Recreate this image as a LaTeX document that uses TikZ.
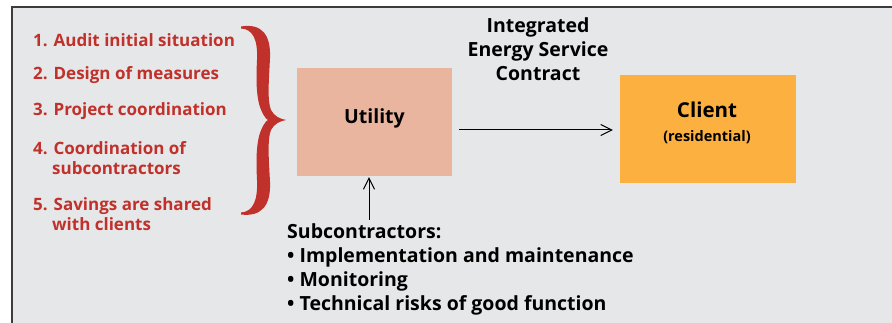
\documentclass[tikz,border=0pt]{standalone}
\usepackage{fontspec}
\setmainfont{Open Sans}
\usetikzlibrary{arrows.meta}
\definecolor{panelgray}{HTML}{E6E7E8}
\definecolor{frame}{HTML}{3C3C3C}
\definecolor{stepred}{HTML}{C1312B}
\definecolor{utilfill}{HTML}{E9B59F}
\definecolor{clientfill}{HTML}{FBB040}
\tikzset{
  steptext/.style={anchor=west, text=stepred, font=\bfseries\fontsize{17}{20}\selectfont, align=left, inner sep=0pt},
  maintext/.style={font=\bfseries\fontsize{19.5}{24}\selectfont, inner sep=0pt},
  actor/.style={draw=none, inner sep=0pt},
  arr/.style={line width=1pt, -{Straight Barb[length=11pt,width=11pt,line width=1pt]}}
}
\begin{document}
\begin{tikzpicture}[x=1pt,y=-1pt]
\useasboundingbox (0,0) rectangle (892,323);
% panel
\fill[panelgray] (12,7) rectangle (892,323);
\draw[frame, line width=2pt] (12,323) -- (12,7) -- (892,7);

% numbered steps
\node[steptext] (s1) at (33,40) {1. Audit initial situation};
\node[steptext] (s2) at (33,75) {2. Design of measures};
\node[steptext] (s3) at (33,111) {3. Project coordination};
\node[steptext] (s4) at (33,158) {4. Coordination of\\\hphantom{4.\ }subcontractors};
\node[steptext] (s5) at (33,214) {5. Savings are shared\\\hphantom{5.\ }with clients};

% curly brace
\fill[stepred] (241,26.5)
  .. controls (262,23) and (271,35) .. (270,58)
  .. controls (269,80) and (267,100) .. (271,110)
  .. controls (274,116) and (280,119) .. (286,120)
  .. controls (280,121) and (274,124) .. (271,130)
  .. controls (267,140) and (269,162) .. (270,182)
  .. controls (271,205) and (262,217) .. (241,214.5)
  .. controls (241,213.5) and (241,213) .. (241,212.5)
  .. controls (253,212) and (258,200) .. (257,180)
  .. controls (256,160) and (256,140) .. (262,128)
  .. controls (264,124) and (266,121) .. (268,120)
  .. controls (266,119) and (264,116) .. (262,112)
  .. controls (256,100) and (256,80) .. (257,60)
  .. controls (258,40) and (253,29) .. (241,28.5) -- cycle;

% parties
\node[actor, fill=utilfill, minimum width=155pt, minimum height=108pt] (util) at (374.5,122) {};
\node[maintext] (utiltxt) at (374.5,118) {Utility};
\node[actor, fill=clientfill, minimum width=176pt, minimum height=108pt] (client) at (708,129) {};
\node[font=\bfseries\fontsize{20.5}{24}\selectfont, inner sep=0pt] (clienttxt) at (707,110) {Client};
\node[font=\bfseries\fontsize{14.5}{17}\selectfont, inner sep=0pt] (restxt) at (707,137) {(residential)};

% contract
\node[maintext, align=center] (contract) at (538,49) {Integrated\\Energy Service\\Contract};
\draw[arr, shorten <=7pt, shorten >=7pt] ([yshift=-8pt]util.east) -- ([yshift=-1pt]client.west);

% subcontractors
\node[maintext, anchor=north west, align=left] (sub) at (287,223)
  {Subcontractors:\\• Implementation and maintenance\\• Monitoring\\• Technical risks of good function};
\coordinate (subtop) at (369,220);
\draw[arr, shorten >=1pt] (subtop) -- (subtop |- util.south);
\end{tikzpicture}
\end{document}
